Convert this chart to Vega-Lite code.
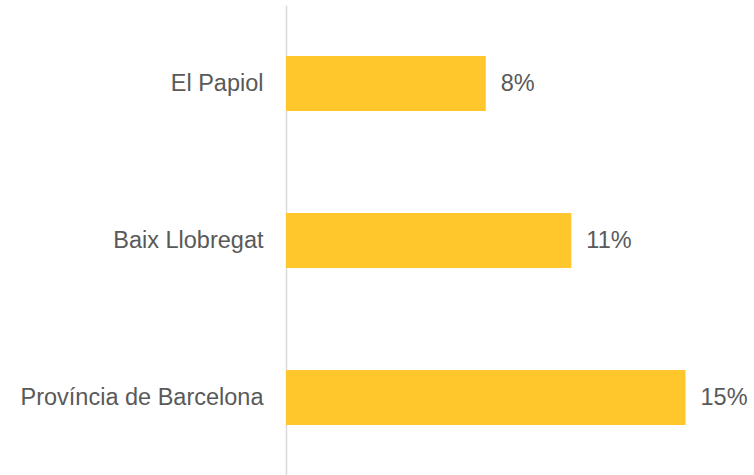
{
  "$schema": "https://vega.github.io/schema/vega-lite/v6.json",
  "autosize": {"type": "none"},
  "padding": {"left": 286, "top": 5, "right": 27, "bottom": 0},
  "width": 441,
  "height": 471,
  "background": "white",
  "config": {"view": {"stroke": null}, "font": "Liberation Sans"},
  "data": {"values": [
    {"area": "El Papiol", "value": 0.077},
    {"area": "Baix Llobregat", "value": 0.11},
    {"area": "Província de Barcelona", "value": 0.154}
  ]},
  "encoding": {
    "y": {"field": "area", "type": "nominal", "sort": null,
      "scale": {"paddingInner": 0.65, "paddingOuter": 0.325},
      "axis": {"title": null, "ticks": false, "labelPadding": 23, "labelFontSize": 23.5, "labelColor": "#595959", "labelFont": "Liberation Sans", "domainColor": "#d9d9d9", "domainWidth": 1.5, "labelLimit": 300}},
    "x": {"field": "value", "type": "quantitative", "scale": {"domain": [0, 0.17], "nice": false}, "axis": null}
  },
  "layer": [
    {"mark": {"type": "bar", "color": "#FFC72C"}},
    {"mark": {"type": "text", "align": "left", "baseline": "middle", "dx": 15, "fontSize": 23.5, "color": "#595959", "font": "Liberation Sans"},
     "encoding": {"text": {"field": "value", "type": "quantitative", "format": ".0%"}}}
  ]
}
